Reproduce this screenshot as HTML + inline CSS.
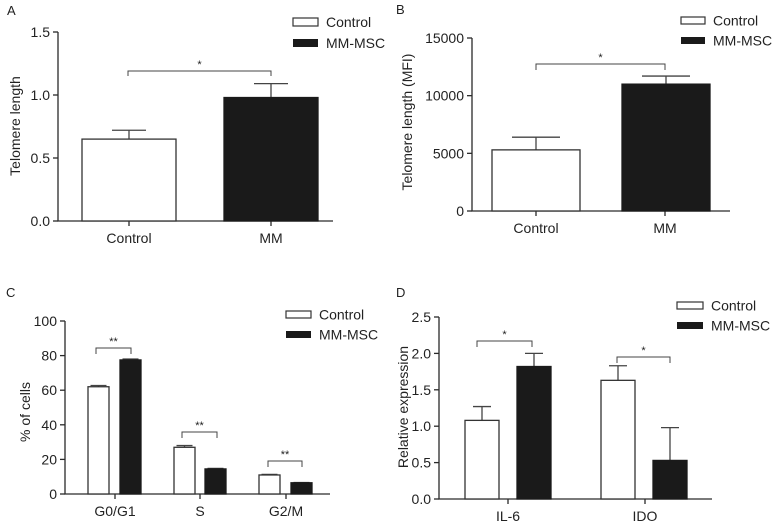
<!DOCTYPE html>
<html><head><meta charset="utf-8"><style>
body{margin:0;background:#fff;}
svg{display:block;font-family:"Liberation Sans",Arial,sans-serif;}
</style></head><body>
<svg id="fig" width="777" height="525" viewBox="0 0 777 525" xmlns="http://www.w3.org/2000/svg"></svg>
<script>
// Panel A data
const aCats = ["Control","MM"];
const aCtrl = [0.65, null];
const aMM = [null, 0.98];
const aCtrlErr = [0.72, null];
const aMMErr = [null, 1.09];
const aTicks = ["0.0","0.5","1.0","1.5"];
// Panel B data
const bCats = ["Control","MM"];
const bCtrl = [5300, null];
const bMM = [null, 11000];
const bCtrlErr = [6400, null];
const bMMErr = [null, 11700];
const bTicks = ["0","5000","10000","15000"];
// Panel C data
const cCats = ["G0/G1","S","G2/M"];
const cCtrl = [62, 27, 11];
const cMM = [77.5, 14.5, 6.5];
const cCtrlErr = [62.7, 28, 11.3];
const cMMErr = [78, 14.8, 6.6];
const cTicks = ["0","20","40","60","80","100"];
// Panel D data
const dCats = ["IL-6","IDO"];
const dCtrl = [1.08, 1.63];
const dMM = [1.82, 0.53];
const dCtrlErr = [1.27, 1.83];
const dMMErr = [2.0, 0.98];
const dTicks = ["0.0","0.5","1.0","1.5","2.0","2.5"];

const NS="http://www.w3.org/2000/svg";
const svg=document.getElementById('fig');
function mk(tag,attrs,parent,text){const e=document.createElementNS(NS,tag);for(const k in attrs)e.setAttribute(k,attrs[k]);if(text!==undefined)e.textContent=text;(parent||svg).appendChild(e);return e;}
const AX="#2a2a2a";

function panel(cfg){
  const g=mk('g',{});
  
  
  const max=parseFloat(cfg.ticks[cfg.ticks.length-1]);
  const y=v=>cfg.y0-(v/max)*(cfg.y0-cfg.y1);
  const t=mk('text',{x:cfg.lx,y:cfg.ly,'font-size':13,fill:'#222'},g,cfg.id.toUpperCase());
  
  
  const ax=mk('path',{d:`M${cfg.ax} ${cfg.y1}V${cfg.y0}H${cfg.axEnd}`,stroke:AX,'stroke-width':1.3,fill:'none'},g);
  
  
  cfg.ticks.forEach(tk=>{const v=parseFloat(tk);const yy=y(v);
    mk('line',{x1:cfg.ax-5,x2:cfg.ax,y1:yy,y2:yy,stroke:AX,'stroke-width':1.3},g);
    const tl=mk('text',{x:cfg.ax-8,y:yy+5,'font-size':14,'text-anchor':'end',fill:'#222'},g,tk);
    
    
  });
  const yt=mk('text',{x:0,y:0,'font-size':14,'text-anchor':'middle',fill:'#222',transform:`translate(${cfg.tx},${cfg.ty}) rotate(-90)`},g,cfg.title);
  
  
  cfg.cats.forEach((c,i)=>{
    const cx=cfg.catX[i];
    mk('line',{x1:cx,x2:cx,y1:cfg.y0,y2:cfg.y0+5,stroke:AX,'stroke-width':1.3},g);
    const cl=mk('text',{x:cx,y:cfg.y0+22,'font-size':14,'text-anchor':'middle',fill:'#222'},g,c);
    
    
    [[cfg.ctrl,cfg.ctrlErr,'#fff','control',cfg.ctrlX],[cfg.mm,cfg.mmErr,'#1a1a1a','mm-msc',cfg.mmX]].forEach(([vals,errs,fill,nm,xs])=>{
      const v=vals[i]; if(v===null||v===undefined) return;
      const x0=xs[i]; const w=cfg.bw;
      const e=errs[i];
      const ex=x0+w/2;
      mk('path',{d:`M${ex} ${y(v)}V${y(e)}M${ex-cfg.cap} ${y(e)}H${ex+cfg.cap}`,stroke:'#444','stroke-width':1.3,fill:'none'},g);
      const r=mk('rect',{x:x0,y:y(v),width:w,height:cfg.y0-y(v),fill:fill,stroke:fill==='#fff'?'#333':'#1a1a1a','stroke-width':1.3},g);
      
      
    });
  });
  cfg.brackets.forEach(b=>{
    mk('path',{d:`M${b[0]} ${b[3]}V${b[2]}H${b[1]}V${b[3]}`,stroke:'#444','stroke-width':1,fill:'none'},g);
    const st=mk('text',{x:(b[0]+b[1])/2,y:b[2]-3,'font-size':11,'text-anchor':'middle',fill:'#222'},g,b[4]);
    
    
  });
  const L=cfg.leg;
  const lg=mk('g',{},g);
  
  
  mk('rect',{x:L[0],y:L[1],width:L[2],height:L[3],fill:'#fff',stroke:'#333','stroke-width':1.2},lg);
  mk('text',{x:L[0]+L[2]+8,y:L[1]+L[3]/2+5,'font-size':14,fill:'#222'},lg,'Control');
  mk('rect',{x:L[0],y:L[4],width:L[2],height:L[3],fill:'#1a1a1a'},lg);
  mk('text',{x:L[0]+L[2]+8,y:L[4]+L[3]/2+5,'font-size':14,fill:'#222'},lg,'MM-MSC');
}

panel({id:'a',lx:7,ly:15,ax:58,axEnd:333,y0:221,y1:32,ticks:aTicks,title:'Telomere length',tx:20,ty:126,
  cats:aCats,catX:[129,271],ctrl:aCtrl,mm:aMM,ctrlErr:aCtrlErr,mmErr:aMMErr,ctrlX:[82,null],mmX:[null,224],bw:94,cap:17,
  brackets:[[128,271,71,76,'*']],leg:[293,18,25,8,39]});
panel({id:'b',lx:396,ly:14,ax:472,axEnd:730,y0:211,y1:38,ticks:bTicks,title:'Telomere length (MFI)',tx:412,ty:122,
  cats:bCats,catX:[536,665],ctrl:bCtrl,mm:bMM,ctrlErr:bCtrlErr,mmErr:bMMErr,ctrlX:[492,null],mmX:[null,622],bw:88,cap:24,
  brackets:[[536,665,64,70,'*']],leg:[681,17,24,7,37]});
panel({id:'c',lx:6,ly:297,ax:65,axEnd:330,y0:494,y1:321,ticks:cTicks,title:'% of cells',tx:30,ty:412,
  cats:cCats,catX:[115,200,286],ctrl:cCtrl,mm:cMM,ctrlErr:cCtrlErr,mmErr:cMMErr,ctrlX:[88,174,259],mmX:[120,205,291],bw:21,cap:8,
  brackets:[[96,131,348,354,'**'],[182,217,432,438,'**'],[268,302,461,467,'**']],leg:[286,311,25,7,331]});
panel({id:'d',lx:396,ly:297,ax:439,axEnd:712,y0:499,y1:317,ticks:dTicks,title:'Relative expression',tx:408,ty:407,
  cats:dCats,catX:[508,645],ctrl:dCtrl,mm:dMM,ctrlErr:dCtrlErr,mmErr:dMMErr,ctrlX:[465,601],mmX:[517,653],bw:34,cap:9,
  brackets:[[477,532,341,347,'*'],[617,670,357,363,'*']],leg:[677,302,26,7,322]});
</script>
</body></html>
